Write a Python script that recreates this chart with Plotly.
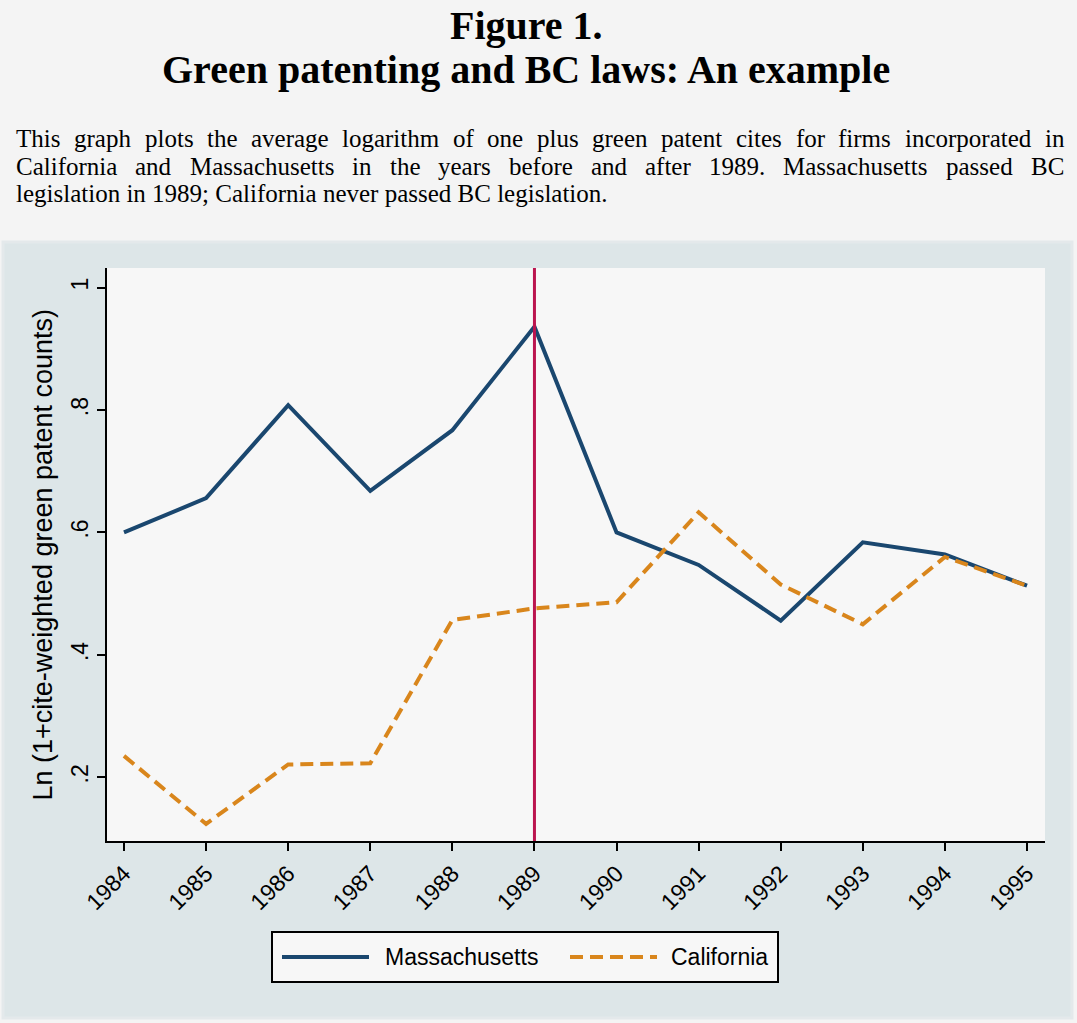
import plotly.graph_objects as go

# data
years = [1984, 1985, 1986, 1987, 1988, 1989, 1990, 1991, 1992, 1993, 1994, 1995]
massachusetts = [0.600, 0.656, 0.808, 0.668, 0.767, 0.936, 0.600, 0.547, 0.456, 0.584, 0.564, 0.513]
california = [0.235, 0.124, 0.221, 0.223, 0.457, 0.476, 0.486, 0.633, 0.515, 0.450, 0.560, 0.513]
bc_year = 1989

y_tickvals = [0.2, 0.4, 0.6, 0.8, 1.0]
y_ticktext = [".2", ".4", ".6", ".8", "1"]

title_lines = ["Figure 1.", "Green patenting and BC laws: An example"]
desc_lines = [
    "This graph plots the average logarithm of one plus green patent cites for firms incorporated in",
    "California and Massachusetts in the years before and after 1989. Massachusetts passed BC",
    "legislation in 1989; California never passed BC legislation.",
]
ytitle = "Ln (1+cite-weighted green patent counts)"

# page + plot area in pixels
W, H = 1077, 1023
L, R, T, B = 107, 1045, 268, 841

SERIF = "Liberation Serif, Times New Roman, serif"
SANS = "Liberation Sans, Arial, sans-serif"
NAVY = "#1a476f"
ORANGE = "#d9861c"


def px(x):
    return (x - L) / (R - L)


def py(y):
    return (B - y) / (B - T)


# Times metrics (per 1000 em) so the paragraph can be justified
lower = dict(zip("abcdefghijklmnopqrstuvwxyz",
                 [444, 500, 444, 500, 444, 333, 500, 500, 278, 278, 500, 278, 778,
                  500, 500, 500, 500, 333, 389, 278, 500, 500, 722, 500, 500, 444]))
upper = dict(zip("ABCDEFGHIJKLMNOPQRSTUVWXYZ",
                 [722, 667, 667, 722, 611, 556, 722, 722, 333, 389, 722, 611, 889,
                  722, 722, 556, 722, 667, 556, 611, 722, 722, 944, 722, 722, 611]))
TIMES = {**lower, **upper, ".": 250, ",": 250, ";": 278, ":": 278}
for d in "0123456789":
    TIMES[d] = 500


def text_width(s, size):
    return sum(TIMES.get(c, 500) for c in s) * size / 1000.0


fig = go.Figure()

fig.add_trace(go.Scatter(x=years, y=massachusetts, mode="lines", name="Massachusetts",
                         line=dict(color=NAVY, width=4)))
fig.add_trace(go.Scatter(x=years, y=california, mode="lines", name="California",
                         line=dict(color=ORANGE, width=4, dash="13px,7px")))

fig.add_vline(x=bc_year, line=dict(color="#bb154f", width=3))

shapes = [
    # graph region (light blue grey)
    dict(type="rect", xref="paper", yref="paper", layer="below",
         x0=px(3), x1=px(1072), y0=py(1018), y1=py(242),
         fillcolor="#dde6e8", line=dict(color="#e4e9eb", width=3)),
    # plot region
    dict(type="rect", xref="paper", yref="paper", layer="below",
         x0=0, x1=1, y0=0, y1=1, fillcolor="#f7f7f7", line=dict(width=0)),
    # legend box
    dict(type="rect", xref="paper", yref="paper",
         x0=px(272), x1=px(778), y0=py(982), y1=py(932),
         fillcolor="#f7f7f7", line=dict(color="black", width=2)),
    dict(type="line", xref="paper", yref="paper",
         x0=px(282), x1=px(369), y0=py(957), y1=py(957),
         line=dict(color=NAVY, width=4)),
    dict(type="line", xref="paper", yref="paper",
         x0=px(570), x1=px(657), y0=py(957), y1=py(957),
         line=dict(color=ORANGE, width=4, dash="13px,7px")),
]
for s in shapes:
    fig.add_shape(**s)

annotations = [
    dict(text=title_lines[0], x=px(526), y=py(25), font=dict(family=SERIF, size=40, color="black", weight="bold")),
    dict(text=title_lines[1], x=px(526), y=py(69), font=dict(family=SERIF, size=40, color="black", weight="bold")),
    dict(text=ytitle, x=px(42), y=0.5, textangle=-90, font=dict(family=SANS, size=27, color="black")),
    dict(text="Massachusetts", x=px(383), y=py(957), xanchor="left", font=dict(family=SANS, size=23, color="black")),
    dict(text="California", x=px(669), y=py(957), xanchor="left", font=dict(family=SANS, size=23, color="black")),
]

# description paragraph, first two lines justified between x=15 and x=1063
dsize = 25
baselines = [147, 175, 202]
for i, line in enumerate(desc_lines):
    yc = baselines[i] - 0.33 * dsize
    words = line.split(" ")
    if i < len(desc_lines) - 1:
        widths = [text_width(w, dsize) for w in words]
        gap = (1063 - 15 - sum(widths)) / (len(words) - 1)
        x = 15
        for w, wd in zip(words, widths):
            annotations.append(dict(text=w, x=px(x - 1), y=py(yc), xanchor="left",
                                    font=dict(family=SERIF, size=dsize, color="black")))
            x += wd + gap
    else:
        annotations.append(dict(text=line, x=px(14), y=py(yc), xanchor="left",
                                font=dict(family=SERIF, size=dsize, color="black")))

for a in annotations:
    a.setdefault("xanchor", "center")
    fig.add_annotation(xref="paper", yref="paper", showarrow=False, yanchor="middle", **a)

fig.update_layout(
    width=W, height=H,
    margin=dict(l=L, r=W - R, t=T, b=H - B),
    paper_bgcolor="#f4f4f4",
    plot_bgcolor="rgba(0,0,0,0)",
    showlegend=False,
    font=dict(family=SANS, color="black"),
)
fig.update_xaxes(
    range=[1983.793, 1995.219], tickvals=years, tickangle=-45,
    tickfont=dict(family=SANS, size=23, color="black"),
    showgrid=False, zeroline=False, showline=True, linecolor="black", linewidth=2,
    ticks="outside", ticklen=8, tickwidth=2, tickcolor="black",
)
fig.update_yaxes(
    range=[0.096, 1.032], tickvals=y_tickvals, ticktext=y_ticktext, tickangle=-90,
    tickfont=dict(family=SANS, size=23, color="black"),
    showgrid=False, zeroline=False, showline=True, linecolor="black", linewidth=2,
    ticks="outside", ticklen=8, tickwidth=2, tickcolor="black",
)

fig.write_html("out.html", config={"displayModeBar": False},
               post_script="document.body.style.margin='0';")
